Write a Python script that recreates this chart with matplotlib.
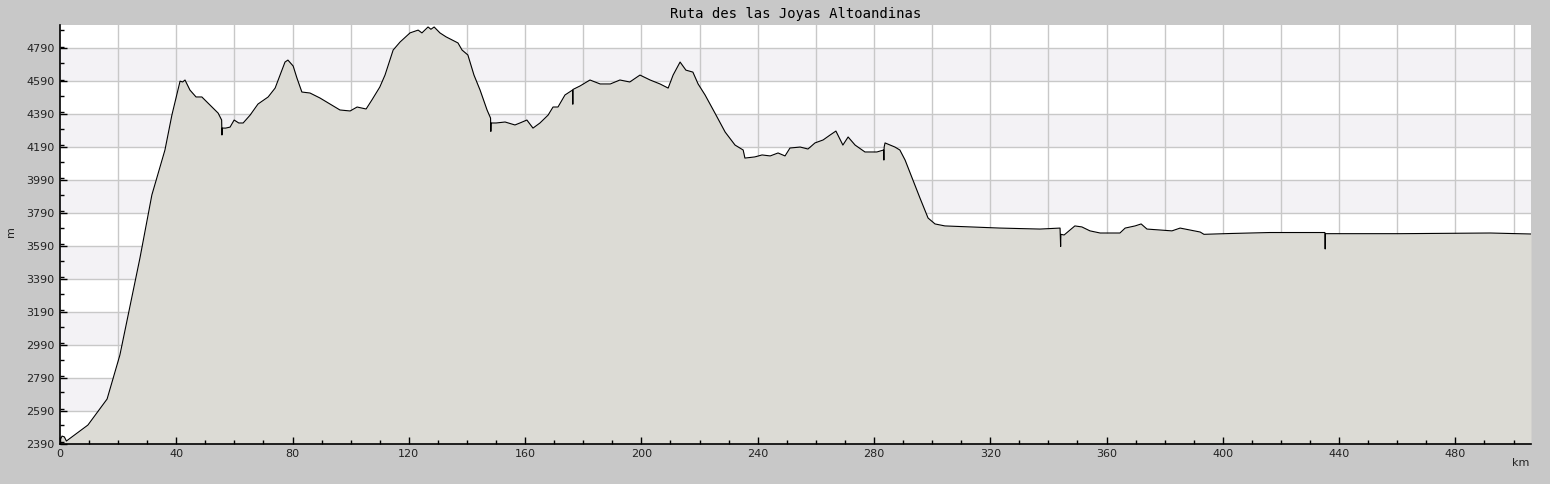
import matplotlib
matplotlib.use('Agg')
import matplotlib.pyplot as plt
from matplotlib.ticker import MultipleLocator

# 距离(km)与海拔(m)
km = [0, 0.7, 1.5, 2.2, 9.6, 16.2, 20.6, 27.5, 31.6, 36.1, 38.5, 41.3, 42.2, 43, 44.7,
      46.8, 48.8, 51.6, 54.4, 55.6, 55.7, 55.8, 57, 58.5, 59.9, 61.5, 63, 65.4, 68.1,
      71.6, 74, 75.7, 77.4, 78.4, 80.2, 81.5, 83.2, 86, 89.4, 92.9, 96.3, 99.8, 102.2,
      105.3, 107.3, 110, 111.8, 114.6, 117, 120.4, 123.2, 124.5, 126.6, 127.6, 128.7,
      130.7, 132.8, 134.8, 136.9, 138.3, 140.3, 142.4, 144.5, 146.9, 148.1, 148.2,
      148.3, 150, 153.1, 156.5, 158.2, 160.6, 162.7, 165.1, 167.9, 169.6, 171.3, 173.7,
      176.3, 176.4, 176.5, 178.9, 182.3, 185.8, 189.3, 192.6, 196, 199.5, 203, 206.4,
      209.2, 210.9, 213.3, 215.3, 217.7, 219.5, 221.9, 225.3, 228.8, 232.2, 235, 235.6,
      239, 241.5, 244.3, 247, 249.4, 251.1, 254.6, 257.3, 259.7, 262.5, 264.9, 266.9,
      269.3, 271.1, 273.5, 276.9, 281, 283.3, 283.4, 283.5, 283.8, 287.2, 288.9, 290.7,
      293.1, 295.8, 298.6, 301, 304.4, 323.4, 337.1, 344, 344.2, 344.3, 345.4, 347.4,
      349.1, 351.5, 354.3, 357.8, 364.6, 366.4, 369.8, 371.9, 373.9, 378.4, 382.5,
      385.3, 388.7, 392.2, 393.5, 402.5, 416.2, 435.1, 435.2, 435.3, 436, 461, 492, 506]
elev = [2411, 2435, 2430, 2405, 2502, 2660, 2927, 3516, 3899, 4172, 4385, 4590, 4585,
        4597, 4536, 4494, 4494, 4445, 4396, 4354, 4263, 4305, 4305, 4311, 4354, 4336,
        4336, 4384, 4451, 4494, 4548, 4627, 4706, 4718, 4682, 4609, 4524, 4518, 4488,
        4451, 4415, 4409, 4433, 4421, 4476, 4554, 4627, 4779, 4828, 4883, 4900, 4883,
        4919, 4905, 4919, 4883, 4859, 4841, 4822, 4779, 4749, 4627, 4536, 4415, 4366,
        4285, 4336, 4336, 4342, 4324, 4336, 4354, 4305, 4336, 4384, 4433, 4433, 4506,
        4536, 4450, 4540, 4561, 4597, 4573, 4573, 4597, 4585, 4627, 4597, 4573, 4548,
        4627, 4706, 4657, 4645, 4573, 4506, 4396, 4281, 4202, 4172, 4123, 4130, 4142,
        4136, 4154, 4136, 4184, 4190, 4178, 4215, 4233, 4263, 4287, 4202, 4251, 4202,
        4160, 4160, 4172, 4111, 4190, 4215, 4190, 4172, 4111, 4002, 3881, 3759, 3723,
        3711, 3698, 3692, 3698, 3586, 3660, 3656, 3686, 3711, 3705, 3681, 3668, 3668,
        3698, 3711, 3723, 3692, 3686, 3681, 3698, 3686, 3674, 3660, 3665, 3671, 3671,
        3571, 3664, 3664, 3664, 3668, 3662]

title = 'Ruta des las Joyas Altoandinas'
y_ticks = list(range(2390, 4791, 200))
x_ticks = list(range(0, 481, 40))

bg = '#c8c8c8'
band = '#f3f2f5'
fill = '#dcdbd5'

fig = plt.figure(figsize=(15.5, 4.84), dpi=100, facecolor=bg)
ax = fig.add_axes([60 / 1550, 1 - 443.5 / 484, 1471 / 1550, 418.5 / 484])
ax.set_facecolor('white')

ax.set_xlim(0, 506)
ax.set_ylim(2390, 4931)

# 交替背景条带
for y0 in range(2590, 4791, 400):
    ax.axhspan(y0, y0 + 200, color=band, zorder=0, lw=0)

ax.set_yticks(y_ticks)
ax.set_xticks(x_ticks)
ax.yaxis.set_minor_locator(MultipleLocator(100))
ax.xaxis.set_minor_locator(MultipleLocator(10))
for x in range(20, 506, 20):
    ax.axvline(x, color='#c8c8c8', lw=1, zorder=0.5)
for y in y_ticks:
    ax.axhline(y, color='#c8c8c8', lw=1, zorder=0.5)

ax.fill_between(km, elev, 2390, color=fill, zorder=1, lw=0)
ax.plot(km, elev, color='black', lw=0.8, zorder=2)

for s in ['top', 'right']:
    ax.spines[s].set_visible(False)
for s in ['left', 'bottom']:
    ax.spines[s].set_color('black')
    ax.spines[s].set_linewidth(1.2)
    ax.spines[s].set_zorder(3)

ax.tick_params(which='major', direction='in', length=5, width=1, labelsize=8,
               labelcolor='#222222', pad=4)
ax.tick_params(which='minor', direction='in', length=3, width=1)

ax.set_title(title, family='DejaVu Sans Mono', fontsize=10, pad=5)
fig.text(1521 / 1550, 1 - 463 / 484, 'km', fontsize=8, color='#222222',
         ha='center', va='center')
fig.text(11 / 1550, 1 - 232 / 484, 'm', fontsize=8, color='#222222',
         ha='center', va='center', rotation=90)

fig.savefig('out.png', dpi=100, facecolor=bg)
